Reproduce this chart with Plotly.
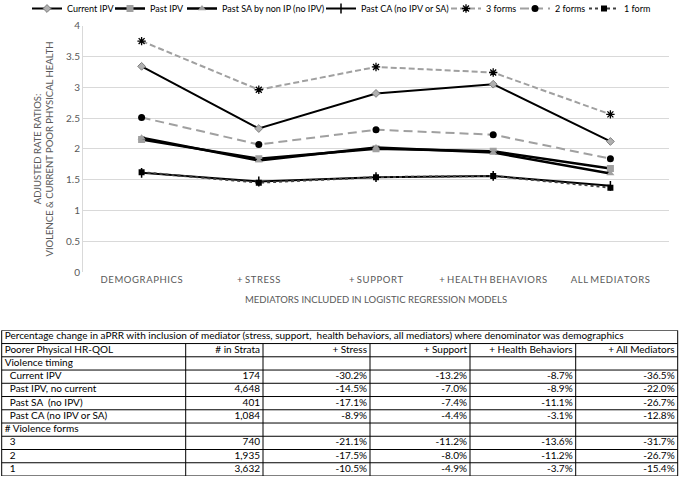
import plotly.graph_objects as go

# Модели (категории по оси X)
categories = ["DEMOGRAPHICS", "+ STRESS", "+ SUPPORT", "+ HEALTH BEHAVIORS", "ALL MEDIATORS"]

current_ipv = [3.34, 2.33, 2.90, 3.05, 2.12]
past_ipv = [2.15, 1.84, 2.00, 1.96, 1.68]
past_sa = [2.18, 1.81, 2.02, 1.94, 1.60]
past_ca = [1.61, 1.47, 1.54, 1.56, 1.40]
forms_3 = [3.75, 2.96, 3.33, 3.24, 2.56]
forms_2 = [2.51, 2.07, 2.31, 2.23, 1.84]
forms_1 = [1.62, 1.45, 1.54, 1.56, 1.37]

# Таблица
table_title = ("Percentage change in aPRR with inclusion of mediator (stress, support,  "
               "health behaviors, all mediators) where denominator was demographics")
table_header = ["Poorer Physical HR-QOL", "# in Strata", "+ Stress", "+ Support",
                "+ Health Behaviors", "+ All Mediators"]
row_labels = ["Violence timing", "  Current IPV", "  Past IPV, no current", "  Past SA  (no IPV)",
              "  Past CA (no IPV or SA)", "# Violence forms", "  3", "  2", "  1"]
strata = ["", "174", "4,648", "401", "1,084", "", "740", "1,935", "3,632"]
pct_stress = ["", "-30.2%", "-14.5%", "-17.1%", "-8.9%", "", "-21.1%", "-17.5%", "-10.5%"]
pct_support = ["", "-13.2%", "-7.0%", "-7.4%", "-4.4%", "", "-11.2%", "-8.0%", "-4.9%"]
pct_health = ["", "-8.7%", "-8.9%", "-11.1%", "-3.1%", "", "-13.6%", "-11.2%", "-3.7%"]
pct_all = ["", "-36.5%", "-22.0%", "-26.7%", "-12.8%", "", "-31.7%", "-26.7%", "-15.4%"]

W, H = 680, 478
FONT = "Lato"
GREY_TXT = "#595959"
TFONT = dict(family=FONT, size=10, color="black")


def spaced(s):
    # разреженные буквы внутри слов, как в Excel
    return " ".join("\u200a".join(w) if w.isalpha() else w for w in s.split(" "))


# (имя, данные, линия, маркер, ширина подписи в легенде)
series = [
    ("Current IPV", current_ipv, dict(color="black", width=2, dash="solid"),
     dict(symbol="diamond", size=6, color="#b0b0b0", line=dict(color="#7f7f7f", width=1)), 38),
    ("Past IPV", past_ipv, dict(color="black", width=2.5, dash="solid"),
     dict(symbol="square", size=7, color="#a0a0a0", line=dict(width=0)), 27),
    ("Past SA by non IP (no IPV)", past_sa, dict(color="black", width=2.5, dash="solid"),
     dict(symbol="triangle-up", size=7, color="#a0a0a0", line=dict(width=0)), 94),
    ("Past CA (no IPV or SA)", past_ca, dict(color="black", width=2, dash="solid"),
     dict(symbol="line-ns", size=7, color="black", line=dict(color="black", width=1.5)), 80),
    ("3 forms", forms_3, dict(color="#a0a0a0", width=2, dash="6px,3px"),
     dict(symbol="asterisk", size=7, color="black", line=dict(color="black", width=1.3)), 24),
    ("2 forms", forms_2, dict(color="#a0a0a0", width=2, dash="9px,5px"),
     dict(symbol="circle", size=7, color="black", line=dict(width=0)), 24),
    ("1 form", forms_1, dict(color="#404040", width=2, dash="dot"),
     dict(symbol="square", size=6, color="black", line=dict(width=0)), 24),
]

fig = go.Figure()
for name, vals, ln, mk, lw in series:
    fig.add_trace(go.Scatter(x=categories, y=vals, name=name, mode="lines+markers",
                             line=ln, marker=mk, legendwidth=lw, xaxis="x", yaxis="y"))

# --- Таблица: текст через scatter на скрытых осях x2/y2, линии через shapes ---
col_edges = [1.7, 185.7, 263, 370, 470, 575.7, 677.7]
n_rows = 2 + len(row_labels)          # заголовок-объединение + шапка + строки
t_top, t_bottom = 330.3, 476.0

columns = [[s.replace(" ", "\u00a0") for s in row_labels], strata,
           pct_stress, pct_support, pct_health, pct_all]
for ci, (hdr, col) in enumerate(zip(table_header, columns)):
    texts = [hdr] + col
    rows_y = [r + 1.5 for r in range(len(texts))]
    if ci == 0:
        xs, pos = [col_edges[0] + 3] * len(texts), "middle right"
    else:
        xs, pos = [col_edges[ci + 1] - 3] * len(texts), "middle left"
    fig.add_trace(go.Scatter(x=xs, y=rows_y, text=texts, mode="text", textposition=pos,
                             textfont=TFONT, showlegend=False, hoverinfo="skip",
                             xaxis="x2", yaxis="y2"))

fig.add_trace(go.Scatter(x=[col_edges[0] + 3], y=[0.5], text=[table_title], mode="text",
                         textposition="middle right", textfont=TFONT, showlegend=False,
                         hoverinfo="skip", xaxis="x2", yaxis="y2"))

for r in range(n_rows + 1):
    fig.add_shape(type="line", xref="x2", yref="y2", x0=col_edges[0], x1=col_edges[-1],
                  y0=r, y1=r, line=dict(color="black", width=1))
for i, xe in enumerate(col_edges):
    y0 = 0 if i in (0, len(col_edges) - 1) else 1
    fig.add_shape(type="line", xref="x2", yref="y2", x0=xe, x1=xe, y0=y0, y1=n_rows,
                  line=dict(color="black", width=1))

# Подписи осей
fig.add_annotation(text="ADJUSTED RATE RATIOS:<br>VIOLENCE & CURRENT POOR PHYSICAL HEALTH",
                   xref="paper", yref="paper", x=42.5 / W, y=1 - 149 / H, textangle=-90,
                   xanchor="center", yanchor="middle",
                   showarrow=False, font=dict(family=FONT, size=9.5, color=GREY_TXT))
fig.add_annotation(text="MEDIATORS INCLUDED IN LOGISTIC REGRESSION MODELS",
                   xref="paper", yref="paper", x=376 / W, y=1 - 299 / H,
                   xanchor="center", yanchor="middle",
                   showarrow=False, font=dict(family=FONT, size=9.5, color=GREY_TXT))

fig.update_layout(
    width=W, height=H,
    margin=dict(l=0, r=0, t=0, b=0, autoexpand=False),
    paper_bgcolor="white", plot_bgcolor="white",
    font=dict(family=FONT, size=10, color=GREY_TXT),
    showlegend=True,
    legend=dict(orientation="h", x=0.5, xanchor="center", y=1 + 6 / H, yanchor="top",
                font=dict(family=FONT, size=9, color="black"), itemwidth=30,
                tracegroupgap=0, bgcolor="rgba(0,0,0,0)"),
    xaxis=dict(domain=[83 / W, 669 / W], range=[-0.5, 4.5], showgrid=False,
               tickmode="array", tickvals=categories, ticktext=[spaced(c) for c in categories],
               tickfont=dict(family=FONT, size=9.5, color=GREY_TXT), ticks="",
               showline=False, zeroline=False, automargin=False, anchor="y"),
    yaxis=dict(domain=[1 - 272 / H, 1 - 25.7 / H], range=[0, 4], dtick=0.5,
               gridcolor="#d9d9d9", gridwidth=1, zeroline=False, showline=True,
               linecolor="#d9d9d9", linewidth=1, ticks="",
               tickfont=dict(family=FONT, size=10, color=GREY_TXT), automargin=False,
               anchor="x"),
    xaxis2=dict(domain=[0, 1], range=[0, W], visible=False, anchor="y2", fixedrange=True),
    yaxis2=dict(domain=[1 - t_bottom / H, 1 - t_top / H], range=[n_rows, 0], visible=False,
                anchor="x2", fixedrange=True),
)

# убираем стандартный отступ body в 8px, чтобы фигура легла точно в окно
fig.write_html("out.html", config={"displayModeBar": False},
               post_script="document.body.style.margin='0';")
